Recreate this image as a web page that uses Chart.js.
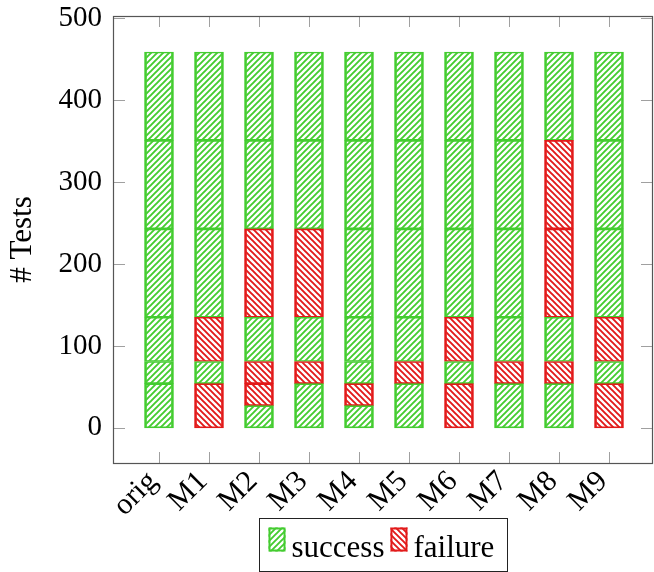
<!DOCTYPE html>
<html>
<head>
<meta charset="utf-8">
<script src="https://cdn.jsdelivr.net/npm/chart.js@4.4.0/dist/chart.umd.min.js"></script>
<style>
html, body { margin: 0; padding: 0; background: #fff; }
</style>
</head>
<body>
<canvas id="drawChart" width="654" height="572"></canvas>
<script>
// categories along x
var categories = ['orig', 'M1', 'M2', 'M3', 'M4', 'M5', 'M6', 'M7', 'M8', 'M9'];
var yTicks = [0, 100, 200, 300, 400, 500];

// stacked segments, bottom to top: success / failure per level
var success1 = [54, null, 27, 54, 27, 54, null, 54, 54, null];
var failure1 = [null, 54, 27, null, 27, null, 54, null, null, 54];
var success2 = [27, 27, null, null, 27, null, 27, null, null, 27];
var failure2 = [null, null, 27, 27, null, 27, null, 27, 27, null];
var success3 = [54, null, 54, 54, 54, 54, null, 54, 54, null];
var failure3 = [null, 54, null, null, null, null, 54, null, null, 54];
var success4 = [108, 108, null, null, 108, 108, 108, 108, null, 108];
var failure4 = [null, null, 108, 108, null, null, null, null, 108, null];
var success5 = [108, 108, 108, 108, 108, 108, 108, 108, null, 108];
var failure5 = [null, null, null, null, null, null, null, null, 108, null];
var success6 = [108, 108, 108, 108, 108, 108, 108, 108, 108, 108];
var failure6 = [null, null, null, null, null, null, null, null, null, null];

var levels = [
	[success1, failure1], [success2, failure2], [success3, failure3],
	[success4, failure4], [success5, failure5], [success6, failure6]
];

var GREEN = '#44cc30';
var RED = '#e21a1a';
var FONT = "'Liberation Serif', 'Times New Roman', serif";

var canvas = document.getElementById('drawChart');
var ctx = canvas.getContext('2d');

function makeHatch(color, rising) {
	var c = document.createElement('canvas');
	c.width = 6; c.height = 6;
	var g = c.getContext('2d');
	g.strokeStyle = color;
	g.lineWidth = 1.9;
	g.beginPath();
	if (rising) {
		g.moveTo(-1, 7); g.lineTo(7, -1);
		g.moveTo(-1, 1); g.lineTo(1, -1);
		g.moveTo(5, 7); g.lineTo(7, 5);
	} else {
		g.moveTo(-1, -1); g.lineTo(7, 7);
		g.moveTo(5, -1); g.lineTo(7, 1);
		g.moveTo(-1, 5); g.lineTo(1, 7);
	}
	g.stroke();
	return ctx.createPattern(c, 'repeat');
}

var greenHatch = makeHatch(GREEN, true);
var redHatch = makeHatch(RED, false);

function toPoints(arr) {
	return arr.map(function (v, i) { return { x: i, y: v }; });
}

var datasets = [];
levels.forEach(function (lv) {
	datasets.push({
		label: 'success', data: toPoints(lv[0]),
		backgroundColor: greenHatch, borderColor: GREEN
	});
	datasets.push({
		label: 'failure', data: toPoints(lv[1]),
		backgroundColor: redHatch, borderColor: RED
	});
});
datasets.forEach(function (d) {
	d.borderWidth = { top: 1, bottom: 1, left: 2, right: 2 };
	d.borderSkipped = false;
	d.barThickness = 29;
});

var framePlugin = {
	id: 'frame',
	afterDraw: function (chart) {
		var a = chart.chartArea;
		var c = chart.ctx;
		var xs = chart.scales.x, ys = chart.scales.y;
		c.save();
		// inner tick marks
		c.strokeStyle = '#a0a0a0';
		c.lineWidth = 1;
		c.beginPath();
		ys.ticks.forEach(function (t) {
			var y = Math.round(ys.getPixelForValue(t.value)) + 0.5;
			c.moveTo(a.left, y); c.lineTo(a.left + 12, y);
			c.moveTo(a.right, y); c.lineTo(a.right - 12, y);
		});
		xs.ticks.forEach(function (t) {
			var x = Math.round(xs.getPixelForValue(t.value)) + 0.5;
			c.moveTo(x, a.top); c.lineTo(x, a.top + 11);
			c.moveTo(x, a.bottom); c.lineTo(x, a.bottom - 11);
		});
		c.stroke();
		// frame
		c.strokeStyle = '#555';
		c.lineWidth = 1.2;
		c.strokeRect(Math.round(a.left) + 0.5, Math.round(a.top) + 0.5,
			Math.round(a.right - a.left) - 1, Math.round(a.bottom - a.top));

		// legend
		c.font = '31px ' + FONT;
		c.textBaseline = 'alphabetic';
		var items = [['success', greenHatch, GREEN], ['failure', redHatch, RED]];
		var sw = 17, sh = 24, gap = 6, margin = 9;
		var total = 0;
		items.forEach(function (it, i) {
			it.w = c.measureText(it[0]).width;
			total += sw + gap + it.w + (i > 0 ? gap : 0);
		});
		var bw = Math.round(total + margin * 2 + 4), bh = 53;
		var bx = Math.round((a.left + a.right) / 2 - bw / 2) + 0.5;
		var by = Math.round(a.bottom + 55) + 0.5;
		c.fillStyle = '#fff';
		c.fillRect(bx, by, bw, bh);
		c.strokeStyle = '#222';
		c.lineWidth = 1;
		c.strokeRect(bx, by, bw, bh);
		var x = bx + margin;
		items.forEach(function (it, i) {
			if (i > 0) x += gap;
			var sy = by + 9;
			c.fillStyle = it[1];
			c.fillRect(x, sy, sw, sh);
			c.strokeStyle = it[2];
			c.lineWidth = 2;
			c.strokeRect(x + 1, sy + 1, sw - 2, sh - 2);
			x += sw + gap;
			c.fillStyle = '#000';
			c.fillText(it[0], x, by + 38);
			x += it.w;
		});
		c.restore();
	}
};

var chart = new Chart(ctx, {
	type: 'bar',
	data: { datasets: datasets },
	options: {
		responsive: false,
		animation: false,
		layout: { padding: { left: 0, top: 16, right: 1, bottom: 0 } },
		plugins: {
			legend: { display: false },
			tooltip: { enabled: false }
		},
		scales: {
			x: {
				type: 'linear',
				stacked: true,
				min: -0.92,
				max: 9.88,
				offset: false,
				grid: { display: false, drawTicks: false },
				border: { display: false },
				afterBuildTicks: function (s) {
					s.ticks = categories.map(function (c, i) { return { value: i }; });
				},
				afterFit: function (s) {
					s.height = 109;
					s.paddingLeft = 0;
					s.paddingRight = 0;
				},
				ticks: {
					autoSkip: false,
					minRotation: 45,
					maxRotation: 45,
					padding: 1,
					labelOffset: -6,
					color: '#000',
					font: { family: FONT, size: 30 },
					callback: function (v) { return categories[v]; }
				}
			},
			y: {
				stacked: true,
				min: -43,
				max: 503,
				grid: { display: false, drawTicks: false },
				border: { display: false },
				afterBuildTicks: function (s) {
					s.ticks = yTicks.map(function (v) { return { value: v }; });
				},
				afterFit: function (s) {
					s.width = 113;
					s.paddingTop = 0;
					s.paddingBottom = 0;
				},
				ticks: {
					padding: 11,
					color: '#000',
					font: { family: FONT, size: 29 },
					callback: function (v) { return String(v); }
				},
				title: {
					display: true,
					text: '# Tests',
					color: '#000',
					padding: { top: 4, bottom: 0 },
					font: { family: FONT, size: 31 }
				}
			}
		}
	},
	plugins: [framePlugin]
});
</script>
</body>
</html>
